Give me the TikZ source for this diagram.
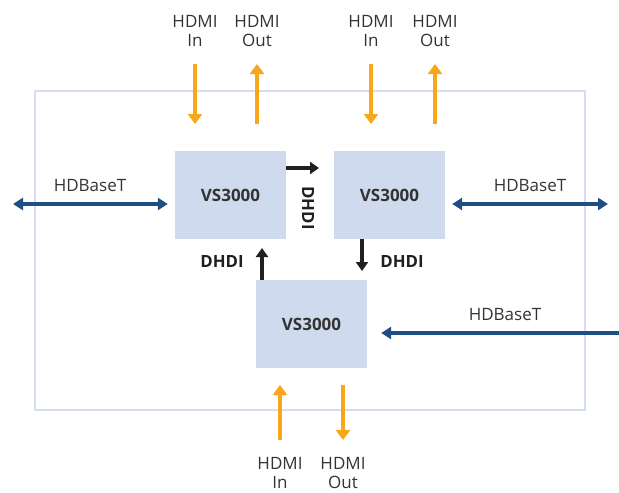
\documentclass[tikz,border=0pt]{standalone}
\usepackage{fontspec}
\setmainfont{Open Sans}
\usetikzlibrary{arrows.meta}
\definecolor{boxfill}{HTML}{D0DAEE}
\definecolor{frame}{HTML}{D5DEF0}
\definecolor{hdmi}{HTML}{F9A61A}
\definecolor{navy}{HTML}{1F4E85}
\definecolor{dark}{HTML}{231F20}
\definecolor{txt}{HTML}{333333}
\tikzset{
  unit/.style={draw=none, fill=boxfill, minimum width=111pt, minimum height=88pt, inner sep=0pt, font=\fontsize{17}{18}\selectfont\bfseries, text=txt},
  lbl/.style={font=\fontsize{17}{19.5}\selectfont, text=txt, align=center, inner sep=0pt},
  dlbl/.style={font=\fontsize{16.8}{18}\selectfont\bfseries, text=dark, inner sep=0pt},
  orange/.style={draw=hdmi, line width=3.6pt, -{Triangle[width=14pt,length=10pt]}},
  blue/.style={draw=navy, line width=3.6pt, -{Triangle[width=12pt,length=10pt]}},
  bluedbl/.style={draw=navy, line width=3.6pt, {Triangle[width=12pt,length=10pt]}-{Triangle[width=12pt,length=10pt]}},
  blk/.style={draw=dark, line width=3.6pt, -{Triangle[width=12pt,length=9pt]}},
}
\begin{document}
\begin{tikzpicture}[x=1pt,y=-1pt]
\useasboundingbox (0,0) rectangle (619,493);
\draw[frame, line width=2pt] (35,91) rectangle (585,410);
\node[unit] (b1) at (230.5,195) {VS3000};
\node[unit] (b2) at (389.5,195) {VS3000};
\node[unit] (b3) at (311.5,324) {VS3000};
% top-left HDMI
\node[lbl] (t1in) at (195,31) {HDMI\\In};
\node[lbl] (t1out) at (257,31) {HDMI\\Out};
\coordinate (a1) at (195,64); \coordinate (a1e) at (195,124);
\coordinate (a2) at (257,124); \coordinate (a2e) at (257,64);
\draw[orange] (a1) -- (a1e);
\draw[orange] (a2) -- (a2e);
% top-right HDMI
\node[lbl] (t2in) at (371,31) {HDMI\\In};
\node[lbl] (t2out) at (435,31) {HDMI\\Out};
\coordinate (a3) at (371,64); \coordinate (a3e) at (371,124);
\coordinate (a4) at (435,124); \coordinate (a4e) at (435,64);
\draw[orange] (a3) -- (a3e);
\draw[orange] (a4) -- (a4e);
% bottom HDMI
\node[lbl] (bin) at (280,473) {HDMI\\In};
\node[lbl] (bout) at (343,473) {HDMI\\Out};
\coordinate (a5) at (280,440); \coordinate (a5e) at (280,385);
\coordinate (a6) at (343,385); \coordinate (a6e) at (343,440);
\draw[orange] (a5) -- (a5e);
\draw[orange] (a6) -- (a6e);
% HDBaseT
\coordinate (l1) at (13,204);
\draw[bluedbl] (l1) -- ([xshift=-7pt]b1.west |- l1);
\node[lbl] (hl) at (90,186) {HDBaseT};
\coordinate (r1) at (608,204);
\draw[bluedbl] ([xshift=7pt]b2.east |- r1) -- (r1);
\node[lbl] (hr) at (530,186) {HDBaseT};
\coordinate (r3) at (619,333);
\draw[blue] (r3) -- ([xshift=14pt]b3.east |- r3);
\node[lbl] (hb) at (505,315) {HDBaseT};
% DHDI
\draw[blk] (b1.east |- 0,168) -- (319,168);
\node[dlbl, rotate=-90] (d1) at (308,208) {DHDI};
\draw[blk] (362,239) -- (362,271);
\node[dlbl] (d2) at (402,261) {DHDI};
\draw[blk] (262,280) -- (262,248);
\node[dlbl] (d3) at (222,261) {DHDI};
\end{tikzpicture}
\end{document}
